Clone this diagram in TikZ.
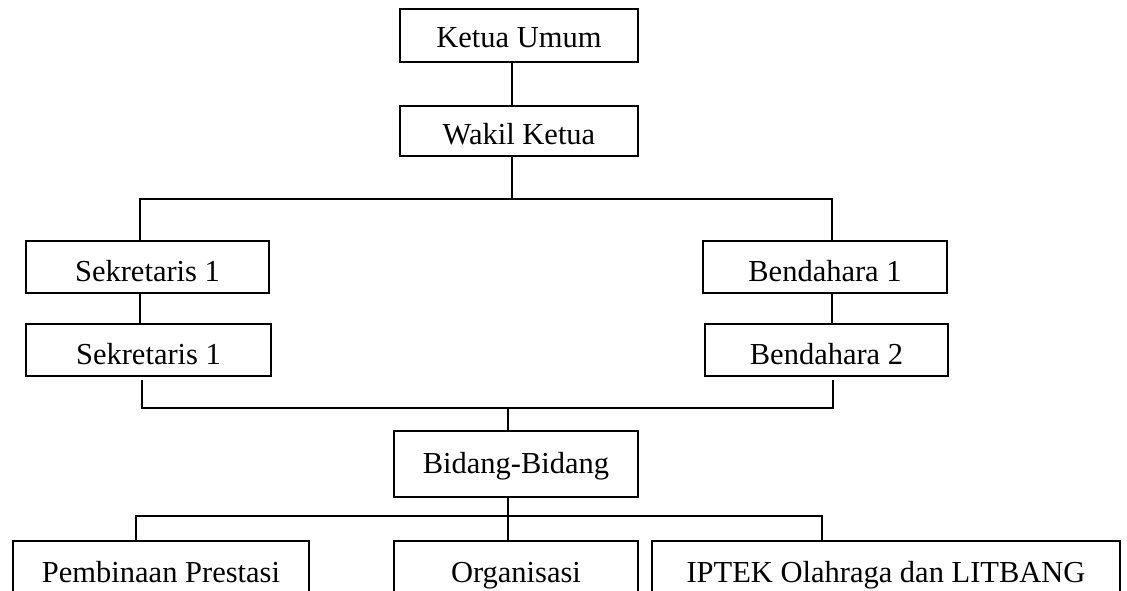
\documentclass[tikz,border=0pt]{standalone}
\usepackage{fontspec}
\setmainfont{Liberation Serif}
\begin{document}
\begin{tikzpicture}[x=1pt,y=-1pt,
  box/.style={draw, line width=2pt, inner xsep=0pt, inner ysep=0pt, anchor=north west,
     font=\fontsize{30.5}{36}\selectfont, align=center},
  conn/.style={draw, line width=2pt, line cap=rect}]
\useasboundingbox (0,0) rectangle (1127,591);
\clip (0,0) rectangle (1127,591);
% boxes
\node[box, minimum width=238pt, text height=39pt, text depth=14pt] (ketua) at (399,8) {Ketua Umum};
\node[box, minimum width=238pt, text height=39pt, text depth=11pt] (wakil) at (399,105) {Wakil Ketua};
\node[box, minimum width=243pt, text height=40pt, text depth=12pt] (sek1) at (25,240) {Sekretaris 1};
\node[box, minimum width=245pt, text height=40pt, text depth=12pt] (sek2) at (25,323) {Sekretaris 1};
\node[box, minimum width=244pt, text height=40pt, text depth=12pt] (bend1) at (702,240) {Bendahara 1};
\node[box, minimum width=243pt, text height=40pt, text depth=12pt] (bend2) at (704,323) {Bendahara 2};
\node[box, minimum width=244pt, text height=42pt, text depth=24pt] (bidang) at (393,430) {Bidang-Bidang};
\node[box, minimum width=296pt, text height=41pt, text depth=40pt] (pemb) at (12,540) {Pembinaan Prestasi};
\node[box, minimum width=244pt, text height=41pt, text depth=40pt] (org) at (393,540) {Organisasi};
\node[box, minimum width=468pt, text height=41pt, text depth=40pt] (iptek) at (651,540) {IPTEK Olahraga dan LITBANG};
% helper coordinates
\coordinate (cx) at (512,0);
\coordinate (lx) at (140,0);
\coordinate (rx) at (832,0);
\coordinate (lx2) at (142,0);
\coordinate (rx2) at (833,0);
\coordinate (cx2) at (508,0);
\coordinate (bx1) at (136,0);
\coordinate (bx2) at (822,0);
\coordinate (h1) at (0,199);
\coordinate (h2) at (0,408);
\coordinate (h3) at (0,516);
% connectors
\path[conn] (ketua.south -| cx) -- (wakil.north -| cx);
\path[conn] (wakil.south -| cx) -- (h1 -| cx);
\path[conn] (sek1.north -| lx) -- (h1 -| lx) -- (h1 -| rx) -- (bend1.north -| rx);
\path[conn] (sek1.south -| lx) -- (sek2.north -| lx);
\path[conn] (bend1.south -| rx) -- (bend2.north -| rx);
\path[conn] ([yshift=-4pt]sek2.south -| lx2) -- (h2 -| lx2) -- (h2 -| rx2) -- ([yshift=-4pt]bend2.south -| rx2);
\path[conn] (h2 -| cx2) -- (bidang.north -| cx2);
\path[conn] (bidang.south -| cx2) -- (org.north -| cx2);
\path[conn] (pemb.north -| bx1) -- (h3 -| bx1) -- (h3 -| bx2) -- (iptek.north -| bx2);
\end{tikzpicture}
\end{document}
